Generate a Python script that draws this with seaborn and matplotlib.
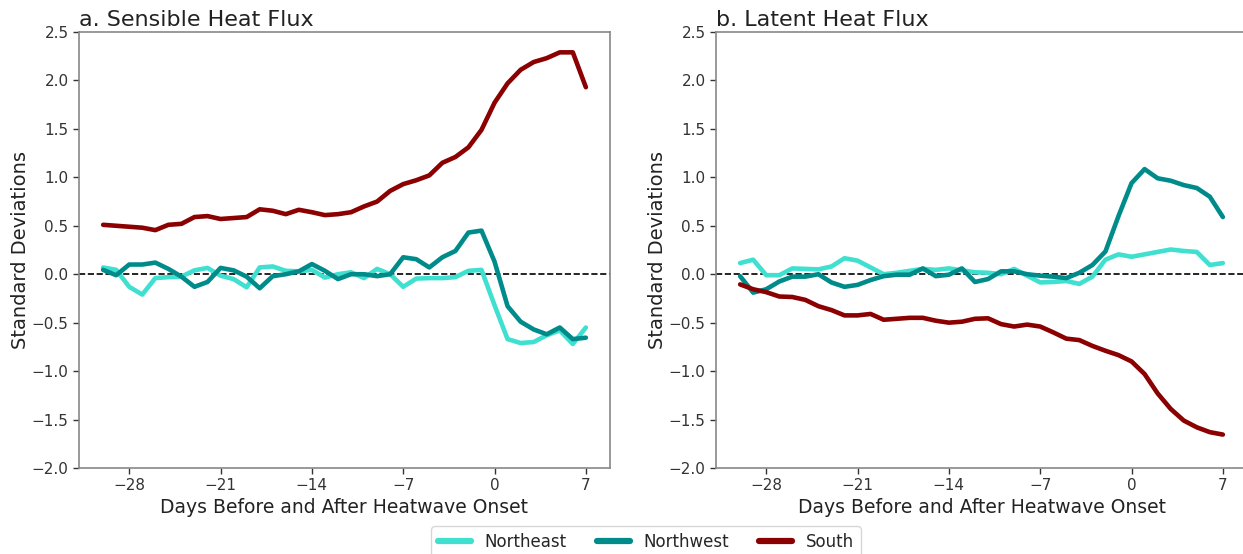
import numpy as np
import pandas as pd
import matplotlib
matplotlib.use("Agg")
import matplotlib.pyplot as plt
import seaborn as sns

days = list(range(-30, 8))
regions = ["Northeast", "Northwest", "South"]
colors = {"Northeast": "#40E0D0", "Northwest": "#008B8B", "South": "#8B0000"}

sh_northeast = [0.07, 0.045, -0.13, -0.21, -0.04, -0.03, -0.025, 0.04, 0.065, -0.015,
                -0.05, -0.135, 0.07, 0.08, 0.035, 0.03, 0.045, -0.035, 0.0, 0.02,
                -0.04, 0.055, 0.0, -0.13, -0.045, -0.04, -0.04, -0.03, 0.035, 0.045,
                -0.32, -0.67, -0.71, -0.70, -0.63, -0.58, -0.72, -0.55]
sh_northwest = [0.045, -0.01, 0.10, 0.10, 0.12, 0.055, -0.025, -0.13, -0.08, 0.065,
                0.04, -0.025, -0.145, -0.02, 0.0, 0.03, 0.105, 0.035, -0.05, 0.0,
                0.0, -0.02, 0.0, 0.175, 0.155, 0.07, 0.175, 0.24, 0.43, 0.45,
                0.13, -0.33, -0.49, -0.57, -0.62, -0.55, -0.67, -0.655]
sh_south = [0.51, 0.50, 0.49, 0.48, 0.455, 0.51, 0.52, 0.59, 0.60, 0.57,
            0.58, 0.59, 0.67, 0.655, 0.62, 0.665, 0.64, 0.61, 0.62, 0.64,
            0.70, 0.75, 0.86, 0.93, 0.97, 1.02, 1.15, 1.21, 1.31, 1.49,
            1.77, 1.97, 2.11, 2.19, 2.23, 2.29, 2.29, 1.93]

lh_northeast = [0.115, 0.15, -0.01, -0.01, 0.06, 0.055, 0.05, 0.08, 0.165, 0.14,
                0.07, 0.0, 0.015, 0.035, 0.055, 0.045, 0.06, 0.04, 0.02, 0.015,
                0.0, 0.055, -0.015, -0.085, -0.08, -0.07, -0.10, -0.025, 0.15, 0.205,
                0.18, 0.205, 0.23, 0.255, 0.24, 0.23, 0.095, 0.115]
lh_northwest = [-0.02, -0.19, -0.155, -0.075, -0.025, -0.025, 0.0, -0.085, -0.13, -0.11,
                -0.06, -0.02, -0.005, -0.005, 0.06, -0.02, -0.005, 0.06, -0.08, -0.05,
                0.03, 0.03, 0.0, -0.015, -0.025, -0.04, 0.015, 0.095, 0.235, 0.60,
                0.94, 1.085, 0.99, 0.965, 0.92, 0.89, 0.80, 0.59]
lh_south = [-0.105, -0.155, -0.185, -0.23, -0.235, -0.265, -0.33, -0.37, -0.425, -0.425,
            -0.41, -0.47, -0.46, -0.45, -0.45, -0.48, -0.50, -0.49, -0.46, -0.455,
            -0.515, -0.54, -0.52, -0.54, -0.60, -0.665, -0.68, -0.74, -0.79, -0.835,
            -0.90, -1.03, -1.23, -1.39, -1.51, -1.58, -1.63, -1.655]

titles = ["a. Sensible Heat Flux", "b. Latent Heat Flux"]
xticks = [-28, -21, -14, -7, 0, 7]
yticks = [-2.0, -1.5, -1.0, -0.5, 0.0, 0.5, 1.0, 1.5, 2.0, 2.5]


def long_df(ne, nw, s):
    frames = []
    for name, vals in zip(regions, [ne, nw, s]):
        frames.append(pd.DataFrame({"day": days, "value": vals, "region": name}))
    return pd.concat(frames, ignore_index=True)


data = [long_df(sh_northeast, sh_northwest, sh_south),
        long_df(lh_northeast, lh_northwest, lh_south)]

sns.set_style("ticks")
plt.rcParams["font.family"] = ["DejaVu Sans"]

W, H = 1243, 554
fig = plt.figure(figsize=(W / 100, H / 100), dpi=100)
ax_pos = [[79 / W, 1 - 468 / H, 531 / W, 436 / H],
          [716 / W, 1 - 468 / H, 531 / W, 436 / H]]

axes = []
for i in range(2):
    ax = fig.add_axes(ax_pos[i])
    axes.append(ax)
    sns.lineplot(data=data[i], x="day", y="value", hue="region", hue_order=regions,
                 palette=colors, linewidth=3.3, ax=ax, legend=False)
    ax.axhline(0, color="black", linestyle="--", linewidth=1.2, zorder=0)
    ax.set_ylim(-2.0, 2.5)
    ax.set_xlim(-31.85, 8.85)
    ax.set_xticks(xticks)
    ax.set_xticklabels([f"\u2212{abs(t)}" if t < 0 else str(t) for t in xticks])
    ax.set_yticks(yticks)
    ax.set_yticklabels([f"\u2212{abs(t):.1f}" if t < 0 else f"{t:.1f}" for t in yticks])
    ax.tick_params(labelsize=11, colors="#333333", length=4, width=1)
    ax.set_xlabel("Days Before and After Heatwave Onset", fontsize=13.5, color="#222222",
                  labelpad=3)
    ax.set_ylabel("Standard Deviations", fontsize=14, color="#222222", labelpad=1)
    ax.set_title(titles[i], loc="left", fontsize=16, color="#222222", pad=4)
    for sp in ax.spines.values():
        sp.set_color("#888888")
        sp.set_linewidth(1.2)
        sp.set_visible(True)

handles = [plt.Line2D([0], [0], color=colors[r], linewidth=4.5) for r in regions]
fig.legend(handles, regions, loc="upper center", ncol=3, fontsize=12,
           bbox_to_anchor=(646 / W, 1 - 518 / H), handlelength=2.0,
           columnspacing=1.8, frameon=True, edgecolor="#cccccc")

fig.savefig("out.png", dpi=100)
